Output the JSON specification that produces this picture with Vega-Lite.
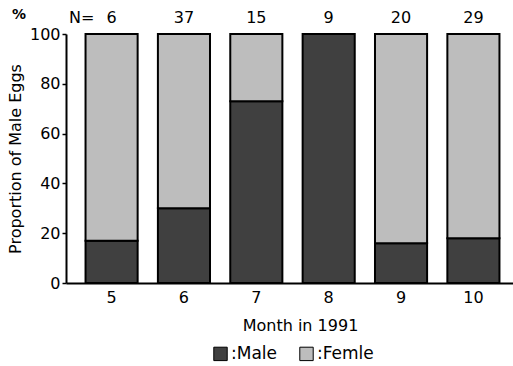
{
  "$schema": "https://vega.github.io/schema/vega-lite/v6.json",
  "autosize": {"type": "none"},
  "width": 453,
  "height": 249,
  "padding": {"left": 66, "top": 34, "right": 0, "bottom": 83},
  "background": "white",
  "config": {"view": {"stroke": null}, "font": "DejaVu Sans"},
  "datasets": {
    "bars": [
      {"month": "5", "sex": "Male", "ord": 0, "pct": 17},
      {"month": "5", "sex": "Femle", "ord": 1, "pct": 83},
      {"month": "6", "sex": "Male", "ord": 0, "pct": 30},
      {"month": "6", "sex": "Femle", "ord": 1, "pct": 70},
      {"month": "7", "sex": "Male", "ord": 0, "pct": 73},
      {"month": "7", "sex": "Femle", "ord": 1, "pct": 27},
      {"month": "8", "sex": "Male", "ord": 0, "pct": 100},
      {"month": "8", "sex": "Femle", "ord": 1, "pct": 0},
      {"month": "9", "sex": "Male", "ord": 0, "pct": 16},
      {"month": "9", "sex": "Femle", "ord": 1, "pct": 84},
      {"month": "10", "sex": "Male", "ord": 0, "pct": 18},
      {"month": "10", "sex": "Femle", "ord": 1, "pct": 82}
    ],
    "counts": [
      {"month": "5", "n": "6"},
      {"month": "6", "n": "37"},
      {"month": "7", "n": "15"},
      {"month": "8", "n": "9"},
      {"month": "9", "n": "20"},
      {"month": "10", "n": "29"}
    ]
  },
  "layer": [
    {
      "data": {"name": "bars"},
      "transform": [{"filter": "datum.pct > 0"}],
      "mark": {"type": "bar", "stroke": "black", "strokeWidth": 2},
      "encoding": {
        "x": {
          "field": "month", "type": "ordinal",
          "sort": ["5", "6", "7", "8", "9", "10"],
          "scale": {"paddingInner": 0.28, "paddingOuter": 0.27},
          "axis": {
            "title": "Month in 1991", "titleFontSize": 16, "titleFontWeight": "normal",
            "titleColor": "black", "titlePadding": 12, "titleX": 234,
            "labelFontSize": 16, "labelColor": "black", "labelAngle": 0, "labelPadding": 6,
            "ticks": false, "domainColor": "black", "domainWidth": 2
          }
        },
        "y": {
          "field": "pct", "type": "quantitative", "stack": "zero",
          "scale": {"domain": [0, 100], "nice": false},
          "axis": {
            "title": "Proportion of Male Eggs", "titleFontSize": 16, "titleFontWeight": "normal",
            "titleColor": "black", "titlePadding": 6,
            "values": [0, 10, 20, 30, 40, 50, 60, 70, 80, 90, 100],
            "labelExpr": "datum.value % 20 == 0 ? datum.label : ''",
            "labelFontSize": 16, "labelColor": "black", "labelPadding": 2,
            "tickSize": 4, "tickColor": "black", "tickWidth": 1.5,
            "domainColor": "black", "domainWidth": 2, "grid": false
          }
        },
        "color": {
          "field": "sex", "type": "nominal",
          "scale": {"domain": ["Male", "Femle"], "range": ["#404040", "#bdbdbd"]},
          "legend": {
            "title": null, "orient": "none", "legendX": 146, "legendY": 311,
            "direction": "horizontal",
            "labelExpr": "':' + datum.label", "labelFontSize": 17, "labelColor": "black",
            "symbolType": "square", "symbolSize": 180, "symbolStrokeColor": "black",
            "symbolStrokeWidth": 1, "columnPadding": 20, "labelOffset": 2
          }
        },
        "order": {"field": "ord", "type": "quantitative"}
      }
    },
    {
      "mark": {"type": "rule", "color": "black", "strokeWidth": 2},
      "encoding": {"y": {"datum": 100}}
    },
    {
      "data": {"name": "counts"},
      "mark": {"type": "text", "fontSize": 16, "color": "black", "dy": -8, "baseline": "bottom"},
      "encoding": {
        "x": {"field": "month", "type": "ordinal", "sort": ["5", "6", "7", "8", "9", "10"]},
        "y": {"datum": 100},
        "text": {"field": "n"}
      }
    },
    {
      "data": {"values": [{"lab": "N="}]},
      "mark": {"type": "text", "fontSize": 16, "color": "black", "align": "left", "baseline": "bottom", "dx": 3, "dy": -8},
      "encoding": {"x": {"value": 0}, "y": {"datum": 100}, "text": {"field": "lab"}}
    },
    {
      "data": {"values": [{"lab": "%"}]},
      "mark": {"type": "text", "fontSize": 14, "fontWeight": "bold", "color": "black", "align": "center", "baseline": "bottom", "dx": -47, "dy": -12},
      "encoding": {"x": {"value": 0}, "y": {"datum": 100}, "text": {"field": "lab"}}
    }
  ]
}
